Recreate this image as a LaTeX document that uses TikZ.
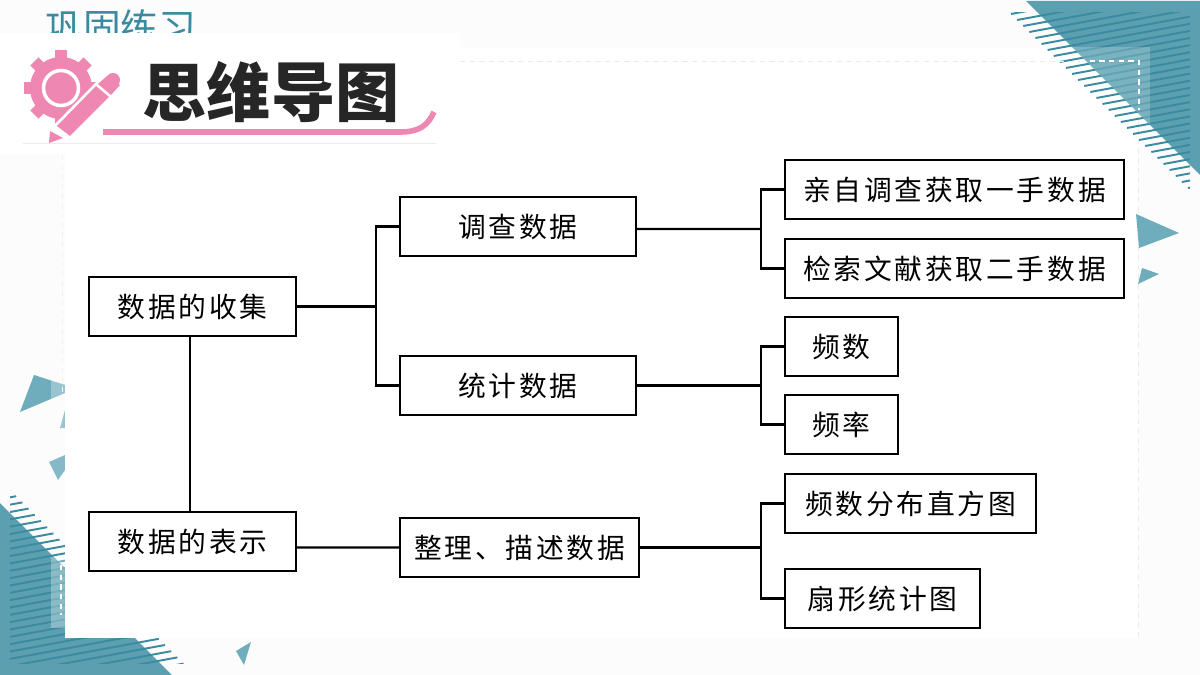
\documentclass[tikz,border=0pt]{standalone}
\usepackage{fontspec}
\setmainfont{Noto Sans CJK SC}
\newfontfamily\kastenfont[LetterSpace=10]{Noto Sans CJK SC}
\newfontfamily\titelfont{Noto Sans CJK SC}
\usetikzlibrary{positioning}

\definecolor{tuerkis}{HTML}{5B9FB1}
\definecolor{tuerkishell}{HTML}{6FADBD}
\definecolor{tuerkisdunkel}{HTML}{3A8BA0}
\definecolor{rosa}{HTML}{EE87B2}
\definecolor{grund}{HTML}{FCFCFC}

\tikzset{
    kasten/.style={draw=black, line width=1.25pt, fill=white, minimum height=1.18cm, inner sep=0pt, font=\fontsize{15.8}{18}\kastenfont},
    linie/.style={black, line width=1.25pt},
    streifen/.style={tuerkisdunkel, line width=1.1pt},
    strichel/.style={white, line width=.7pt, dash pattern=on 3pt off 2.5pt}
}

\begin{document}
\begin{tikzpicture}[x=.02cm, y=-.02cm]

    \useasboundingbox (0,0) rectangle (1200,675);
    \fill[grund] (0,0) rectangle (1200,675);

    \coordinate (zahnrad) at (61,88);

    % links unten
    \fill[tuerkis] (0,503) -- (172,675) -- (0,675) -- cycle;
    \begin{scope}
        \clip (10,488) rectangle (200,663);
        \foreach \n in {0,...,29}
            \draw[streifen] (10+6.2*\n,490+6.2*\n) -- ++(-190,35);
    \end{scope}
    \fill[white, opacity=.3] (51,557) rectangle (65,628);
    \draw[strichel] (61,565) -- (61,615);
    % links, kleine Dreiecke
    \fill[tuerkishell] (20,412) -- (34,375) -- (65,385) -- (65,393) -- cycle;
    \fill[white, opacity=.3] (51,380) -- (65,385) -- (65,393) -- (51,399) -- cycle;
    \fill[tuerkishell!70] (60,428) -- (65,410) -- (65,428) -- cycle;
    \fill[tuerkishell!85] (49,462) -- (65,455) -- (65,470) -- (58,480) -- cycle;
    \fill[tuerkishell] (236,651) -- (251,642) -- (244,665) -- cycle;

    % Blatt
    \fill[white] (65,155) rectangle (1138,638);
    \fill[white] (460,48) rectangle (1138,155);
    \draw[black!8, line width=.5pt, dash pattern=on 3pt off 2.5pt] (1138,110) -- (1138,640);
    \draw[black!5, line width=.5pt, dash pattern=on 3pt off 2.5pt] (62,155) -- (62,400);

    % rechts oben
    \fill[tuerkis] (1026,1) -- (1200,1) -- (1200,175) -- cycle;
    \begin{scope}
        \clip (1000,13) rectangle (1190,190);
        \foreach \n in {0,...,29}
            \draw[streifen] (1011+6.1*\n,14+6.0*\n) -- ++(190,-35);
    \end{scope}
    \begin{scope}
        \clip (1026,1) -- (1200,1) -- (1200,175) -- cycle;
        \fill[white, opacity=.2] (1060,47) rectangle (1150,125);
    \end{scope}
    \draw[black!8, line width=.5pt, dash pattern=on 3pt off 2.5pt] (460,61) -- (1080,61);
    \draw[strichel] (1080,61) -- (1139,61) -- (1139,110);
    % rechts, kleine Dreiecke
    \fill[tuerkishell] (1136,214) -- (1179,233) -- (1139,248) -- cycle;
    \fill[tuerkishell] (1142,268) -- (1159,274) -- (1138,284) -- cycle;

    % Kopf
    \node[text=tuerkisdunkel, anchor=west, inner sep=0pt, font=\fontsize{21.5}{24}\selectfont] (ueberschrift) at (45,27) {巩固练习};
    \fill[white] (0,33) rectangle (460,155);
    \draw[black!8, line width=.4pt] (23,143) -- (436,143);

    % Zahnrad
    \foreach \winkel in {0,45,...,315}
        \draw[rosa, line width=6.5pt] (zahnrad)++(\winkel:26) -- ++(\winkel:11.5);
    \fill[rosa] (zahnrad) circle (31);
    \draw[white, line width=2pt] (zahnrad) circle (17.5);
    % Stift
    \fill[white] (53,126) -- (70,141) -- (125,86) -- (106,72) -- cycle;
    \fill[rosa] (49,143) -- (50,131) -- (63,138) -- cycle;
    \fill[rosa] (57,126) -- (70,136) -- (109,97) -- (96,86) -- cycle;
    \fill[rosa] (98,84) -- (111,95) -- (120,85) -- (107,76) -- cycle;
    \fill[rosa] (113,80) circle (7);
    \draw[rosa, line width=3.2pt] (103,132) -- (400,132) .. controls (420,132) and (428,125) .. (434,112);

    \node[inner sep=0pt, text=black!85, font=\fontsize{36.5}{38}\titelfont\bfseries] (titel) at (271,92) {思维导图};

    % Kaesten
    \node[kasten, minimum width=4.14cm] (shouji) at (192.5,306.5) {数据的收集};
    \node[kasten, minimum width=4.14cm] (biaoshi) at (192.5,541.5) {数据的表示};
    \node[kasten, minimum width=4.72cm] (diaocha) at (518,226.5) {调查数据};
    \node[kasten, minimum width=4.72cm] (tongji) at (518,385.5) {统计数据};
    \node[kasten, minimum width=4.78cm] (zhengli) at (519.5,547.5) {整理、描述数据};
    \node[kasten, minimum width=6.78cm] (qinzi) at (954.5,189.5) {亲自调查获取一手数据};
    \node[kasten, minimum width=6.78cm] (jiansuo) at (954.5,268.5) {检索文献获取二手数据};
    \node[kasten, minimum width=2.26cm] (pinshu) at (841.5,346.5) {频数};
    \node[kasten, minimum width=2.26cm] (pinlv) at (841.5,424.5) {频率};
    \node[kasten, minimum width=5.02cm] (fenbu) at (910.5,503.5) {频数分布直方图};
    \node[kasten, minimum width=3.9cm] (shanxing) at (882.5,598.5) {扇形统计图};

    % Abzweige
    \coordinate (gabel) at (376,306.5);
    \coordinate (gabeleins) at (761,229);
    \coordinate (gabelzwei) at (761,385.5);
    \coordinate (gabeldrei) at (761,547.5);

    \draw[linie] ([xshift=-.05cm]shouji.south) -- ([xshift=-.05cm]biaoshi.north);
    \draw[linie] (shouji.east) -- (gabel);
    \draw[linie] (diaocha.west) -| (gabel) |- (tongji.west);
    \draw[linie] ([yshift=-.05cm]diaocha.east) -- (gabeleins);
    \draw[linie] (qinzi.west) -| (gabeleins) |- (jiansuo.west);
    \draw[linie] (tongji.east) -- (gabelzwei);
    \draw[linie] (pinshu.west) -| (gabelzwei) |- (pinlv.west);
    \draw[linie] ([yshift=-.12cm]biaoshi.east) -- (zhengli.west);
    \draw[linie] (zhengli.east) -- (gabeldrei);
    \draw[linie] (fenbu.west) -| (gabeldrei) |- (shanxing.west);

\end{tikzpicture}
\end{document}
